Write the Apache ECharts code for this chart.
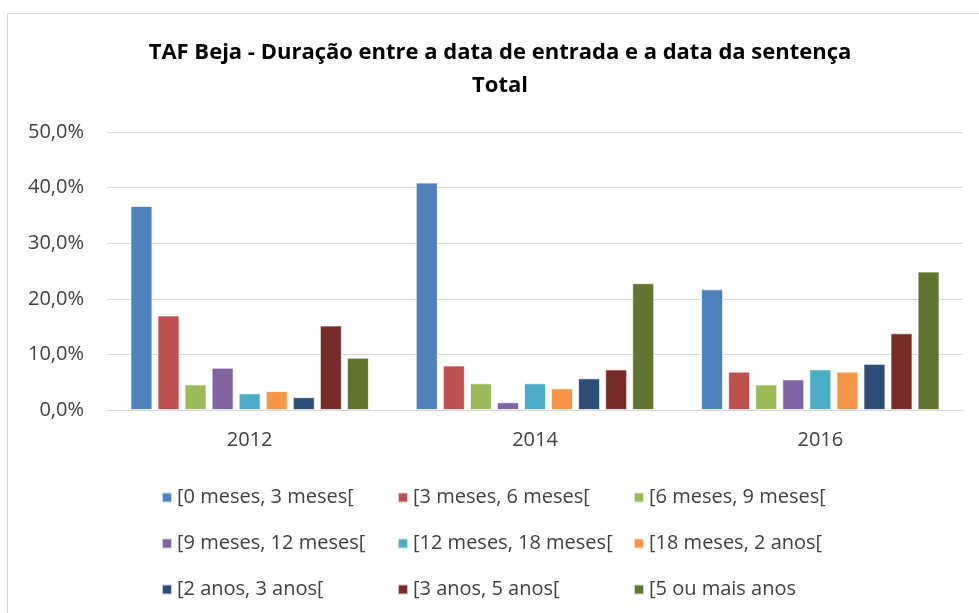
<!DOCTYPE html>
<html>
<head>
<meta charset="utf-8">
<script src="https://cdn.jsdelivr.net/npm/echarts@6/dist/echarts.min.js"></script>
<style>
  html, body { margin: 0; padding: 0; background: #fff; }
  #chart { width: 979px; height: 613px; }
</style>
</head>
<body>
<div id="chart"></div>
<script>
// anos
var years = ['2012', '2014', '2016'];

// escalões de duração
var seriesNames = [
  '[0 meses, 3 meses[',
  '[3 meses, 6 meses[',
  '[6 meses, 9 meses[',
  '[9 meses, 12 meses[',
  '[12 meses, 18 meses[',
  '[18 meses, 2 anos[',
  '[2 anos, 3 anos[',
  '[3 anos, 5 anos[',
  '[5 ou mais anos'
];

// valores em % (2012, 2014, 2016)
var m0_3   = [36.7, 40.9, 21.7];
var m3_6   = [17.0, 8.0, 6.9];
var m6_9   = [4.6, 4.8, 4.6];
var m9_12  = [7.6, 1.4, 5.5];
var m12_18 = [3.0, 4.8, 7.3];
var m18_2a = [3.4, 3.9, 6.9];
var a2_3   = [2.3, 5.7, 8.3];
var a3_5   = [15.2, 7.3, 13.8];
var a5     = [9.4, 22.8, 24.9];

var values = [m0_3, m3_6, m6_9, m9_12, m12_18, m18_2a, a2_3, a3_5, a5];

var yTicks = { min: 0, max: 50, interval: 10 };

var titleText = 'TAF Beja - Duração entre a data de entrada e a data da sentença\nTotal';

var colors = ['#4F81BD', '#C0504D', '#9BBB59', '#8064A2', '#4BACC6',
              '#F79646', '#2C4D75', '#772C2A', '#5F7530'];

var font = '"Open Sans", "Noto Sans", sans-serif';
var textColor = '#404040';

var chart = echarts.init(document.getElementById('chart'));

function legendCol(left, idx) {
  return {
    orient: 'vertical',
    left: left,
    top: 480,
    itemWidth: 10,
    itemHeight: 10,
    itemGap: 21,
    itemTextGap: 9,
    icon: 'rect',
    selectedMode: false,
    textStyle: { fontFamily: font, fontSize: 20, color: textColor, lineHeight: 25 },
    data: idx.map(function (i) { return seriesNames[i]; })
  };
}

var series = seriesNames.map(function (name, i) {
  return {
    name: name,
    type: 'bar',
    barWidth: 22,
    barGap: '23%',
    data: values[i],
    itemStyle: {
      color: colors[i],
      borderColor: 'rgba(255,255,255,0.7)',
      borderWidth: 1
    }
  };
});

var option = {
  animation: false,
  color: colors,
  graphic: [{
    type: 'rect',
    shape: { x: 7.5, y: 13.5, width: 990, height: 620 },
    style: { fill: 'none', stroke: '#d9d9d9', lineWidth: 1 },
    silent: true
  }, {
    // título centrado na área do gráfico original (um pouco à direita)
    type: 'text',
    x: 500,
    y: 36,
    silent: true,
    style: {
      text: titleText,
      align: 'center',
      verticalAlign: 'top',
      fontFamily: font,
      fontSize: 22,
      fontWeight: 'bold',
      lineHeight: 33,
      fill: '#000'
    }
  }],
  legend: [
    legendCol(156, [0, 3, 6]),
    legendCol(392, [1, 4, 7]),
    legendCol(628, [2, 5, 8])
  ],
  grid: { left: 107, right: 16, top: 132, bottom: 203 },
  xAxis: {
    type: 'category',
    data: years,
    axisTick: { show: false },
    axisLine: { lineStyle: { color: '#d9d9d9', width: 1 } },
    axisLabel: { fontFamily: font, fontSize: 20, color: textColor, margin: 20 }
  },
  yAxis: {
    type: 'value',
    min: yTicks.min,
    max: yTicks.max,
    interval: yTicks.interval,
    axisLine: { show: false },
    axisTick: { show: false },
    splitLine: { lineStyle: { color: '#d9d9d9', width: 1 } },
    axisLabel: {
      fontFamily: font,
      fontSize: 20,
      color: textColor,
      margin: 23,
      formatter: function (v) { return v.toFixed(1).replace('.', ',') + '%'; }
    }
  },
  series: series
};

chart.setOption(option);
</script>
</body>
</html>
